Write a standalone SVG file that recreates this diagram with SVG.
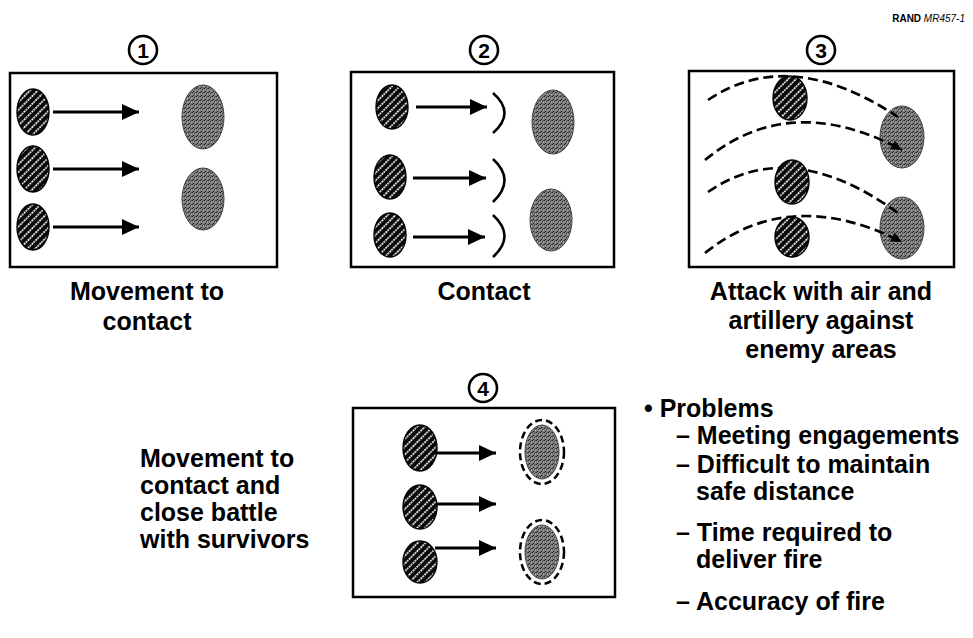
<svg xmlns="http://www.w3.org/2000/svg" width="973" height="638" viewBox="0 0 973 638">
<style>
.box{fill:#fff;stroke:#000;stroke-width:2.5}
.num{fill:#fff;stroke:#000;stroke-width:2.6}
.numt{font-family:"Liberation Sans",Arial,Helvetica,sans-serif;font-weight:bold;font-size:21px;text-anchor:middle;fill:#000}
.fr{fill:url(#hatch);stroke:#000;stroke-width:1.4}
.en{fill:url(#stip);stroke:#444;stroke-width:1}
.ring{fill:none;stroke:#000;stroke-width:2.5;stroke-dasharray:7 4}
.arr{stroke:#000;stroke-width:2.8;fill:none;marker-end:url(#ah)}
.brk{stroke:#000;stroke-width:2.6;fill:none}
.dash{stroke:#000;stroke-width:2.7;fill:none;stroke-dasharray:10 5}
.dasha{stroke:#000;stroke-width:2.7;fill:none;stroke-dasharray:10 5;marker-end:url(#sah)}
.t{font-family:"Liberation Sans",Arial,Helvetica,sans-serif;font-weight:bold;fill:#000}
.cap{font-size:25px;text-anchor:middle}
.big{font-size:25px}
</style>
<defs>
<pattern id="hatch" patternUnits="userSpaceOnUse" width="5.5" height="5.5" patternTransform="rotate(45)">
<rect width="5.5" height="5.5" fill="#0a0a0a"/>
<line x1="2.75" y1="0" x2="2.75" y2="5.5" stroke="#fff" stroke-width="1.6" stroke-dasharray="2 0.9"/>
</pattern>
<pattern id="stip" patternUnits="userSpaceOnUse" width="4" height="4">
<rect width="4" height="4" fill="#7c7c7c"/>
<rect x="0" y="0" width="1" height="1" fill="#2a2a2a"/>
<rect x="2" y="1" width="1" height="1" fill="#3a3a3a"/>
<rect x="1" y="3" width="1" height="1" fill="#222"/>
<rect x="3" y="2" width="1" height="1" fill="#b0b0b0"/>
<rect x="1" y="1" width="1" height="1" fill="#a0a0a0"/>
<rect x="3" y="0" width="1" height="1" fill="#555"/>
</pattern>
<marker id="ah" markerUnits="userSpaceOnUse" markerWidth="18" markerHeight="16" refX="17" refY="8" orient="auto">
<path d="M0,0 L17,8 L0,16 z" fill="#000"/>
</marker>
<marker id="sah" markerUnits="userSpaceOnUse" markerWidth="12" markerHeight="10" refX="11" refY="5" orient="auto">
<path d="M0,0 L11,5 L0,10 z" fill="#000"/>
</marker>
</defs>
<rect width="973" height="638" fill="#fff"/>

<g id="label-rand"><text x="965" y="22" class="t" font-size="10" text-anchor="end">RAND <tspan font-style="italic" font-weight="normal">MR457-1</tspan></text></g>

<g id="panel1">
<circle class="num" cx="143" cy="50" r="14"/><text class="numt" x="143" y="57.5">1</text>
<rect class="box" x="10" y="73" width="267" height="194"/>
<ellipse class="fr" cx="33" cy="112" rx="16" ry="23"/>
<ellipse class="fr" cx="33" cy="169" rx="16" ry="23"/>
<ellipse class="fr" cx="33" cy="227" rx="16" ry="23"/>
<ellipse class="en" cx="203" cy="117" rx="21" ry="32"/>
<ellipse class="en" cx="203" cy="199" rx="21" ry="31"/>
<text class="t cap" x="147" y="300">Movement to</text>
<text class="t cap" x="147" y="330">contact</text>
</g>

<g id="panel2">
<circle class="num" cx="484" cy="50" r="14"/><text class="numt" x="484" y="57.5">2</text>
<rect class="box" x="351" y="72" width="263" height="195"/>
<ellipse class="fr" cx="392" cy="107" rx="16" ry="22"/>
<ellipse class="fr" cx="390" cy="177" rx="16" ry="22"/>
<ellipse class="fr" cx="390" cy="235" rx="16" ry="22"/>
<ellipse class="en" cx="553" cy="122" rx="21" ry="32"/>
<ellipse class="en" cx="551" cy="220" rx="21" ry="31"/>
<text class="t cap" x="484" y="300">Contact</text>
</g>

<g id="panel3">
<circle class="num" cx="821" cy="50" r="14"/><text class="numt" x="821" y="57.5">3</text>
<rect class="box" x="689" y="71" width="265" height="196"/>
<ellipse class="en" cx="902" cy="137" rx="22" ry="31"/>
<ellipse class="en" cx="902" cy="228" rx="22" ry="31"/>
<text class="t cap" x="821" y="300">Attack with air and</text>
<text class="t cap" x="821" y="329">artillery against</text>
<text class="t cap" x="821" y="358">enemy areas</text>
</g>

<g id="panel4">
<circle class="num" cx="483" cy="388" r="14"/><text class="numt" x="483" y="395.5">4</text>
<rect class="box" x="353" y="408" width="262" height="189"/>
<ellipse class="en" cx="542" cy="452" rx="17" ry="27"/>
<ellipse class="ring" cx="542" cy="452" rx="22" ry="32"/>
<ellipse class="en" cx="542" cy="552" rx="17" ry="27"/>
<ellipse class="ring" cx="542" cy="552" rx="22" ry="32"/>
</g>

<g id="connectors">
<line class="arr" x1="53" y1="112" x2="139" y2="112"/>
<line class="arr" x1="53" y1="169" x2="139" y2="169"/>
<line class="arr" x1="53" y1="227" x2="139" y2="227"/>
<line class="arr" x1="416" y1="107" x2="487" y2="107"/>
<line class="arr" x1="413" y1="178" x2="486" y2="178"/>
<line class="arr" x1="413" y1="237" x2="485" y2="237"/>
<path class="brk" d="M493,93 Q516,113 493,133"/>
<path class="brk" d="M493,159 Q516,180 493,202"/>
<path class="brk" d="M493,215 Q516,236 493,257"/>
<path class="dash" d="M708,100 Q790,45 898,117"/>
<path class="dasha" d="M705,160 Q790,90 902,150"/>
<path class="dash" d="M708,192 Q790,135 898,213"/>
<path class="dasha" d="M705,253 Q790,185 902,242"/>
<line class="arr" x1="435" y1="453" x2="496" y2="453"/>
<line class="arr" x1="435" y1="504" x2="496" y2="504"/>
<line class="arr" x1="435" y1="548" x2="496" y2="548"/>
</g>

<g id="panel3-units">
<ellipse class="fr" cx="790" cy="98" rx="17" ry="22"/>
<ellipse class="fr" cx="792" cy="182" rx="17" ry="22"/>
<ellipse class="fr" cx="792" cy="237" rx="17" ry="20"/>
</g>

<g id="panel4-units">
<ellipse class="fr" cx="420" cy="448" rx="17" ry="23"/>
<ellipse class="fr" cx="420" cy="507" rx="17" ry="22"/>
<ellipse class="fr" cx="420" cy="562" rx="17" ry="21"/>
</g>

<g id="caption4">
<text class="t big" x="140" y="467">Movement to</text>
<text class="t big" x="140" y="494">contact and</text>
<text class="t big" x="140" y="521">close battle</text>
<text class="t big" x="140" y="548">with survivors</text>
</g>

<g id="problems">
<text class="t big" x="644" y="417">• Problems</text>
<text class="t big" x="676" y="444">– Meeting engagements</text>
<text class="t big" x="676" y="473">– Difficult to maintain</text>
<text class="t big" x="696" y="500">safe distance</text>
<text class="t big" x="676" y="541">– Time required to</text>
<text class="t big" x="696" y="568">deliver fire</text>
<text class="t big" x="676" y="610">– Accuracy of fire</text>
</g>
</svg>
